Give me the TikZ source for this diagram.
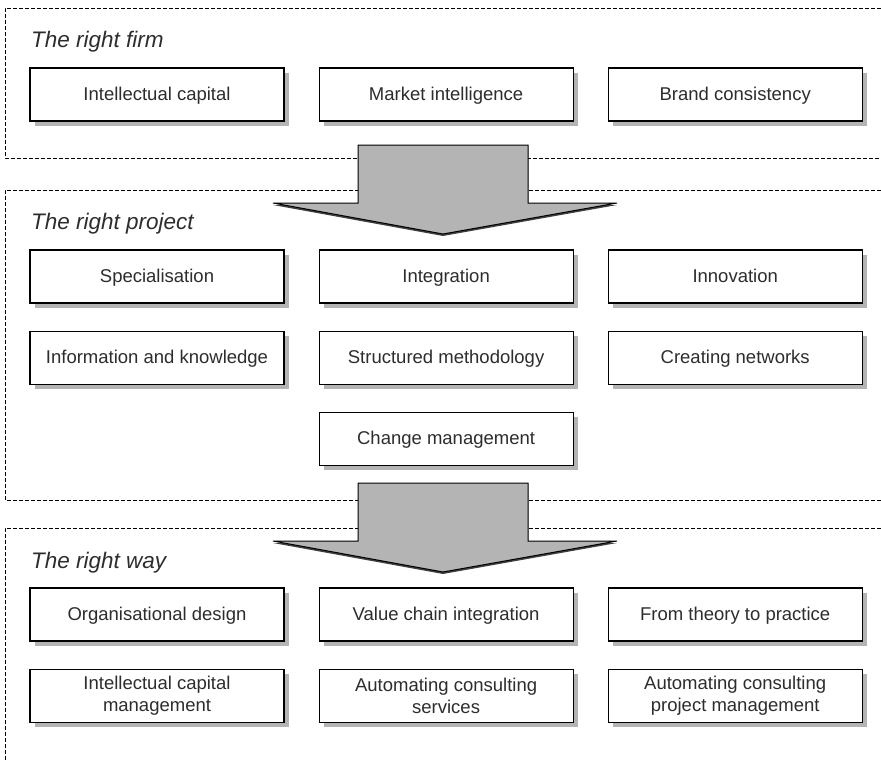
\documentclass[tikz,border=0pt]{standalone}
\usepackage{fontspec}
\setmainfont{Liberation Sans}
\usetikzlibrary{positioning,shadows}
\definecolor{shadowgrey}{RGB}{180,180,180}
\definecolor{arrowgrey}{RGB}{180,180,180}
\definecolor{inkgrey}{RGB}{45,45,45}

\begin{document}
\begin{tikzpicture}[x=1pt,y=1pt,node distance=27pt and 34pt,
          box/.style={draw=black,line width=1.1pt,fill=white,text=inkgrey,
            minimum width=254pt,minimum height=53pt,align=center,
            text height=14.5pt,text depth=3.5pt,
            font=\fontsize{18.5}{22}\selectfont,
            drop shadow={shadow xshift=5pt,shadow yshift=-5pt,
              fill=shadowgrey,opacity=1}},
          twoline/.style={text height={},text depth={}},
          frame/.style={dash pattern=on 4pt off 2pt,line width=0.9pt},
          title/.style={anchor=base west,inner sep=0pt,text=inkgrey,
            font=\fontsize{22.5}{26}\selectfont\itshape},
          bigarrow/.style={fill=arrowgrey,draw=black,line width=1pt}]

        \useasboundingbox (0,0) rectangle (881,-760);

        % dashed section frames, open to the right
        \draw[frame] (881,-8) -- (5,-8) -- (5,-158) -- (881,-158);
        \draw[frame] (881,-190) -- (5,-190) -- (5,-500) -- (881,-500);
        \draw[frame] (881,-528) -- (5,-528) -- (5,-760);

        % the right firm
        \node[title] (firmtitle) at (31,-48) {The right firm};
        \node[box] (capital) at (157,-94.5) {Intellectual capital};
        \node[box,right=of capital] (market) {Market intelligence};
        \node[box,right=of market] (brand) {Brand consistency};

        % the right project
        \node[title] (projecttitle) at (31,-229) {The right project};
        \node[box] (special) at (157,-276.5) {Specialisation};
        \node[box,right=of special] (integration) {Integration};
        \node[box,right=of integration] (innovation) {Innovation};
        \node[box,below=of special] (knowledge) {Information and knowledge};
        \node[box,right=of knowledge] (method) {Structured methodology};
        \node[box,right=of method] (networks) {Creating networks};
        \node[box,below=of method] (change) {Change management};

        % the right way
        \node[title] (waytitle) at (31,-568) {The right way};
        \node[box] (orgdesign) at (157,-614.5) {Organisational design};
        \node[box,right=of orgdesign] (valuechain) {Value chain integration};
        \node[box,right=of valuechain] (practice) {From theory to practice};
        \node[box,twoline,below=of orgdesign] (icmanage)
          {Intellectual capital\\management};
        \node[box,twoline,right=of icmanage] (autoservice)
          {Automating consulting\\services};
        \node[box,twoline,right=of autoservice] (autoproject)
          {Automating consulting\\project management};

        % block arrows between the sections
        \foreach \dy in {0,338} {
          \fill[black!75,shift={(0,-\dy-2)}]
            (358,-145) -- (528,-145) -- (528,-203) -- (617,-203)
            -- (443,-234) -- (273,-203) -- (358,-203) -- cycle;
          \draw[bigarrow,shift={(0,-\dy)}]
            (358,-145) -- (528,-145) -- (528,-203) -- (617,-203)
            -- (443,-234) -- (273,-203) -- (358,-203) -- cycle;
        }

      \end{tikzpicture}
\end{document}
